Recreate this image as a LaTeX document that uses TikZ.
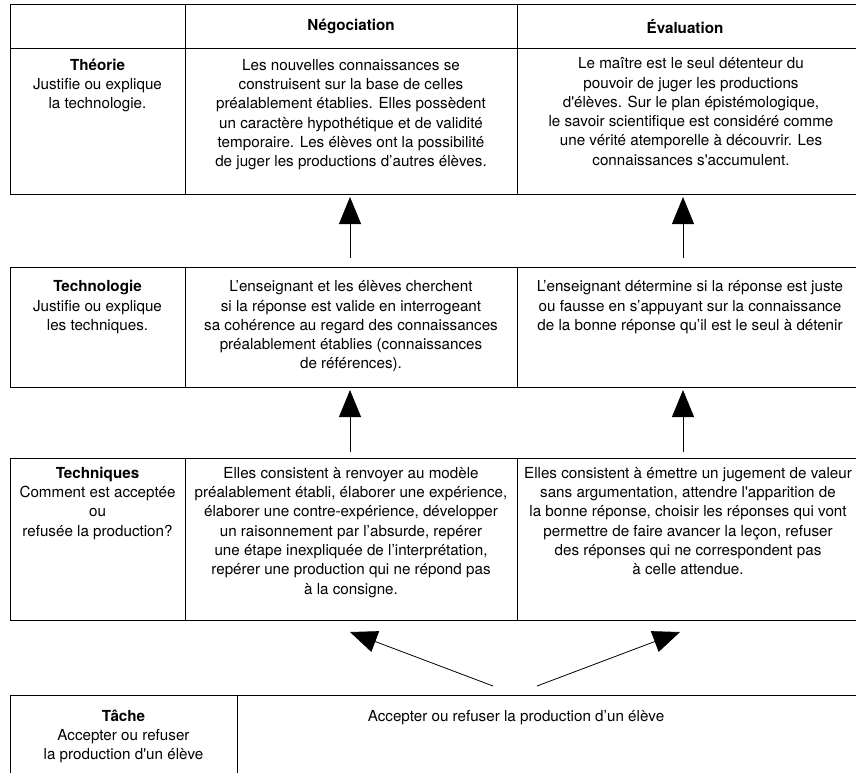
\documentclass[tikz,border=0pt]{standalone}
\usepackage{fontspec}
\setmainfont{TeX Gyre Heros}
\usetikzlibrary{arrows.meta}
\newcommand{\sq}{\textquotesingle}
\begin{document}
\begin{tikzpicture}[x=1pt,y=-1pt,
  cell/.style={draw, line width=0.9pt, anchor=north west, inner sep=0pt, outer sep=0pt},
  txt/.style={anchor=north, inner sep=0pt, align=center, font=\fontsize{15.2}{19.3}\selectfont},
  hdr/.style={inner sep=0pt, font=\fontsize{15.2}{19.3}\selectfont\bfseries},
  arr/.style={line width=0.8pt, -{Triangle[length=27pt,width=22pt]}}]
\useasboundingbox (0,0) rectangle (856,772);
% row 1 : header + theory
\node[cell, minimum width=175pt, minimum height=44pt] (hL) at (10,4) {};
\node[cell, minimum width=332pt, minimum height=44pt] (hN) at (185,4) {};
\node[cell, minimum width=345pt, minimum height=44pt] (hE) at (517,4) {};
\node[cell, minimum width=175pt, minimum height=146pt] (thL) at (10,48) {};
\node[cell, minimum width=332pt, minimum height=146pt] (thN) at (185,48) {};
\node[cell, minimum width=345pt, minimum height=146pt] (thE) at (517,48) {};
% row 2
\node[cell, minimum width=175pt, minimum height=120pt] (teL) at (10,267) {};
\node[cell, minimum width=332pt, minimum height=120pt] (teN) at (185,267) {};
\node[cell, minimum width=345pt, minimum height=120pt] (teE) at (517,267) {};
% row 3
\node[cell, minimum width=175pt, minimum height=162pt] (tqL) at (10,458) {};
\node[cell, minimum width=332pt, minimum height=162pt] (tqN) at (185,458) {};
\node[cell, minimum width=345pt, minimum height=162pt] (tqE) at (517,458) {};
% row 4
\node[cell, minimum width=227pt, minimum height=95pt] (taL) at (10,695) {};
\node[cell, minimum width=625pt, minimum height=95pt] (taR) at (237,695) {};

% headers
\node[hdr] (hNt) at (351,26.5) {Négociation};
\node[hdr] (hEt) at (685,26.5) {Évaluation};

% texts row 1
\node[txt] (thLt) at (97.5,56.5) {\strut\textbf{Théorie}\\Justifie ou explique\\la technologie.};
\node[txt] (thNt) at (351,56.5) {\strut Les nouvelles connaissances se\\construisent sur la base de celles\\préalablement établies. Elles possèdent\\un caractère hypothétique et de validité\\temporaire. Les élèves ont la possibilité\\de juger les productions d’autres élèves.};
\node[txt] (thEt) at (691,55) {\strut Le maître est le seul détenteur du\\pouvoir de juger les productions\\d\sq élèves. Sur le plan épistémologique,\\le savoir scientifique est considéré comme\\une vérité atemporelle à découvrir. Les\\connaissances s\sq accumulent.};

% texts row 2
\node[txt] (teLt) at (97.5,278) {\strut\textbf{Technologie}\\Justifie ou explique\\les techniques.};
\node[txt] (teNt) at (351,278) {\strut L’enseignant et les élèves cherchent\\si la réponse est valide en interrogeant\\sa cohérence au regard des connaissances\\préalablement établies (connaissances\\de références).};
\node[txt] (teEt) at (690,278) {\strut L’enseignant détermine si la réponse est juste\\ou fausse en s’appuyant sur la connaissance\\de la bonne réponse qu’il est le seul à détenir};

% texts row 3
\node[txt] (tqLt) at (97.5,464.5) {\strut\textbf{Techniques}\\Comment est acceptée\\ou\\refusée la production?};
\node[txt] (tqNt) at (351,464.5) {\strut Elles consistent à renvoyer au modèle\\préalablement établi, élaborer une expérience,\\élaborer une contre-expérience, développer\\un raisonnement par l’absurde, repérer\\une étape inexpliquée de l’interprétation,\\repérer une production qui ne répond pas\\à la consigne.};
\node[txt] (tqEt) at (688,464.5) {\strut Elles consistent à émettre un jugement de valeur\\sans argumentation, attendre l\sq apparition de\\la bonne réponse, choisir les réponses qui vont\\permettre de faire avancer la leçon, refuser\\des réponses qui ne correspondent pas\\à celle attendue.};

% texts row 4
\node[txt] (taLt) at (123.5,707.5) {\strut\textbf{Tâche}\\Accepter ou refuser\\la production d\sq un élève};
\node[txt] (taRt) at (516,707.5) {\strut Accepter ou refuser la production d’un élève};

% arrows
\coordinate (n1) at (350,258);
\coordinate (e1) at (683,258);
\coordinate (n2) at (350,452);
\coordinate (e2) at (683,452);
\draw[arr, shorten >=3pt] (n1) -- (n1 |- thN.south);
\draw[arr, shorten >=3pt] (e1) -- (e1 |- thE.south);
\draw[arr, shorten >=3pt] (n2) -- (n2 |- teN.south);
\draw[arr, shorten >=3pt] (e2) -- (e2 |- teE.south);
\coordinate (bl) at (493,686);
\coordinate (br) at (537,686);
\coordinate (tl) at (350,632);
\coordinate (tr) at (680,632);
\draw[arr] (bl) -- (tl);
\draw[arr] (br) -- (tr);
\end{tikzpicture}
\end{document}
